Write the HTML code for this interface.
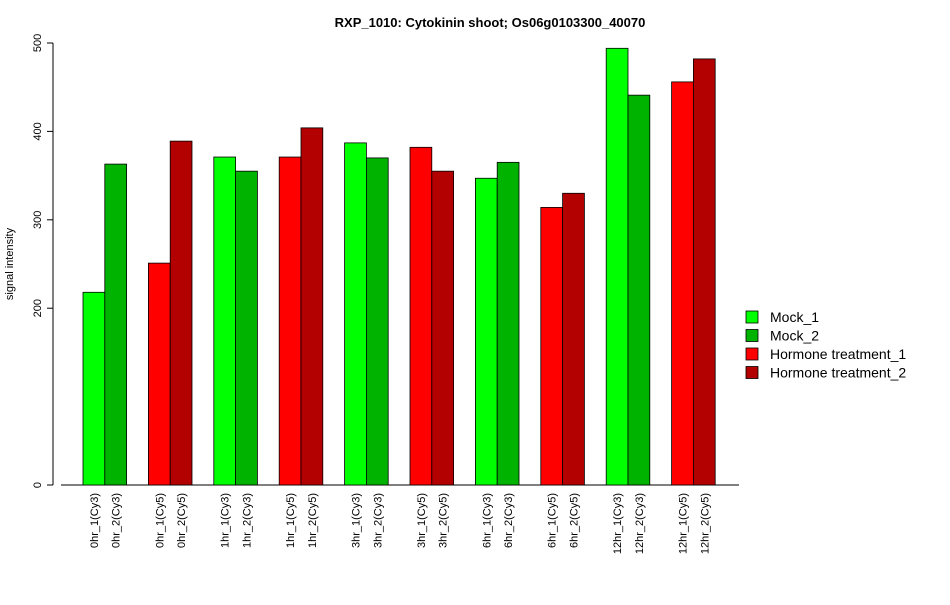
<!DOCTYPE html>
<html><head><meta charset="utf-8"><style>
body{margin:0;background:#fff;font-family:"Liberation Sans",sans-serif}
</style></head><body>
<svg id="c" width="950" height="600" xmlns="http://www.w3.org/2000/svg" font-family="Liberation Sans, sans-serif">
<text x="490" y="27" text-anchor="middle" font-weight="bold" font-size="13">RXP_1010: Cytokinin shoot; Os06g0103300_40070</text>
<text transform="translate(13,264) rotate(-90)" text-anchor="middle" font-size="11">signal intensity</text>
<g id="plot"></g>
</svg>
<script>
const categories=["0hr_1(Cy3)","0hr_2(Cy3)","0hr_1(Cy5)","0hr_2(Cy5)","1hr_1(Cy3)","1hr_2(Cy3)","1hr_1(Cy5)","1hr_2(Cy5)","3hr_1(Cy3)","3hr_2(Cy3)","3hr_1(Cy5)","3hr_2(Cy5)","6hr_1(Cy3)","6hr_2(Cy3)","6hr_1(Cy5)","6hr_2(Cy5)","12hr_1(Cy3)","12hr_2(Cy3)","12hr_1(Cy5)","12hr_2(Cy5)"];
const values=[218,363,251,389,371,355,371,404,387,370,382,355,347,365,314,330,494,441,456,482];
const seriesIdx=[0,1,2,3,0,1,2,3,0,1,2,3,0,1,2,3,0,1,2,3];
const seriesNames=["Mock_1","Mock_2","Hormone treatment_1","Hormone treatment_2"];
const seriesColors=["#00ff00","#00b300","#ff0000","#b30000"];
const yTicks=[0,200,300,400,500];
const ns="http://www.w3.org/2000/svg";
const g=document.getElementById('plot');
const y=v=>485-v*0.884;
const bw=21.8;
const x=i=>83+Math.floor(i/2)*3*bw+(i%2)*bw;
function mk(t,a){const e=document.createElementNS(ns,t);for(const k in a)e.setAttribute(k,a[k]);g.appendChild(e);return e;}
let ax=mk('line',{x1:61,y1:485,x2:739,y2:485,stroke:'#000'});


let ay=mk('line',{x1:53,y1:y(0),x2:53,y2:y(500),stroke:'#000'});


yTicks.forEach(t=>{
 let l=mk('line',{x1:47,x2:53,y1:y(t),y2:y(t),stroke:'#000'});
 
 
 let tx=mk('text',{transform:`translate(41,${y(t)}) rotate(-90)`,'text-anchor':'middle','font-size':11});
 tx.textContent=t;
 
 
});
values.forEach((v,i)=>{
 let r=mk('rect',{x:x(i),y:y(v),width:bw,height:y(0)-y(v),fill:seriesColors[seriesIdx[i]],stroke:'#000','stroke-width':0.8});
 
 
 let tx=mk('text',{transform:`translate(${x(i)+bw/2+4},493) rotate(-90)`,'text-anchor':'end','font-size':11});
 tx.textContent=categories[i];
 
 
});
seriesNames.forEach((n,k)=>{
 let yy=317+k*18.5;
 let r=mk('rect',{x:746,y:yy-6,width:12,height:12,fill:seriesColors[k],stroke:'#000','stroke-width':0.8});
 
 
 let tx=mk('text',{x:770,y:yy+5,'font-size':14});
 tx.textContent=n;
 
 
});
</script>
</body></html>
